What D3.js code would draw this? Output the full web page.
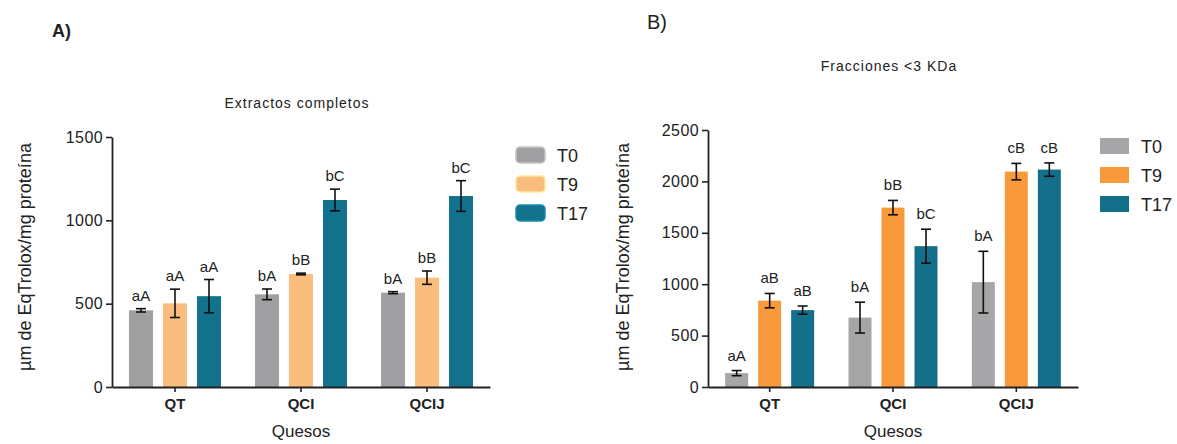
<!DOCTYPE html>
<html>
<head>
<meta charset="utf-8">
<script src="https://cdn.jsdelivr.net/npm/d3@7"></script>
<style>
  body { margin: 0; background: #fff; }
  text { font-family: "Liberation Sans", Arial, sans-serif; fill: #222; }
</style>
</head>
<body>
<script>
var categories = ["QT", "QCI", "QCIJ"];
var series = ["T0", "T9", "T17"];

// A) Extractos completos
var aMeans = { T0: [460, 556, 566], T9: [502, 678, 656], T17: [545, 1122, 1146] };
var aErr = { T0: [10, 32, 6], T9: [85, 5, 40], T17: [100, 65, 92] };
var aLetters = { T0: ["aA", "bA", "bA"], T9: ["aA", "bB", "bB"], T17: ["aA", "bC", "bC"] };
var aTicks = [0, 500, 1000, 1500];

// B) Fracciones <3 KDa
var bMeans = { T0: [135, 675, 1020], T9: [840, 1745, 2095], T17: [748, 1370, 2115] };
var bErr = { T0: [25, 150, 300], T9: [70, 70, 80], T17: [40, 165, 65] };
var bLetters = { T0: ["aA", "bA", "bA"], T9: ["aB", "bB", "cB"], T17: ["aB", "bC", "cB"] };
var bTicks = [0, 500, 1000, 1500, 2000, 2500];

var width = 1177, height = 444;

var svg = d3.select("body").append("svg")
  .attr("width", width)
  .attr("height", height);

function panel(cfg) {
  var x = d3.scaleBand().domain(categories).range([cfg.x0, cfg.x1]);
  var xs = d3.scaleBand().domain(series).range([-cfg.step * 1.5, cfg.step * 1.5]);
  var y = d3.scaleLinear().domain([0, cfg.max]).range([387, cfg.top]);

  var g = svg.append("g");

  // bars
  series.forEach(function(s) {
    var gs = g.append("g");
    gs.selectAll("rect")
      .data(categories)
      .enter().append("rect")
      .attr("x", function(d) { return x(d) + x.bandwidth() / 2 + xs(s) + (cfg.step - cfg.barW) / 2; })
      .attr("y", function(d, i) { return y(cfg.means[s][i]); })
      .attr("width", cfg.barW)
      .attr("height", function(d, i) { return y(0) - y(cfg.means[s][i]); })
      .style("fill", cfg.colors[s]);

    // error bars
    var eb = gs.selectAll(".err")
      .data(categories)
      .enter().append("g")
      .attr("transform", function(d) { return "translate(" + (x(d) + x.bandwidth() / 2 + xs(s) + cfg.step / 2) + ",0)"; });
    eb.append("line")
      .attr("y1", function(d, i) { return y(cfg.means[s][i] + cfg.err[s][i]); })
      .attr("y2", function(d, i) { return y(cfg.means[s][i] - cfg.err[s][i]); });
    eb.append("line")
      .attr("x1", -5).attr("x2", 5)
      .attr("y1", function(d, i) { return y(cfg.means[s][i] + cfg.err[s][i]); })
      .attr("y2", function(d, i) { return y(cfg.means[s][i] + cfg.err[s][i]); });
    eb.append("line")
      .attr("x1", -5).attr("x2", 5)
      .attr("y1", function(d, i) { return y(cfg.means[s][i] - cfg.err[s][i]); })
      .attr("y2", function(d, i) { return y(cfg.means[s][i] - cfg.err[s][i]); });
    eb.selectAll("line").style("stroke", "#111").style("stroke-width", 1.6);

    eb.append("text")
      .attr("y", function(d, i) { return y(cfg.means[s][i] + cfg.err[s][i]) - cfg.gap; })
      .attr("text-anchor", "middle")
      .style("font-size", "15px")
      .text(function(d, i) { return cfg.letters[s][i]; });
  });

  // axes
  var yAxis = d3.axisLeft(y).tickValues(cfg.ticks).tickFormat(d3.format("d"))
    .tickSize(6).tickPadding(3).tickSizeOuter(0);
  var gy = g.append("g").attr("transform", "translate(" + cfg.x0 + ",0)").call(yAxis);
  var xAxis = d3.axisBottom(x).tickSize(5).tickSizeOuter(0).tickPadding(6);
  var gx = g.append("g").attr("transform", "translate(0,387)").call(xAxis);
  [gy, gx].forEach(function(a) {
    a.selectAll("path, line").style("stroke", "#222").style("stroke-width", 1.6);
    a.select(".domain").style("stroke-width", 1.8);
  });
  gy.selectAll("text").style("font-size", "16px").style("letter-spacing", "0.4px")
    .style("fill", "#222").attr("font-family", "Liberation Sans, Arial");
  gx.selectAll("text").style("font-size", "15px").style("font-weight", "bold")
    .style("fill", "#222").attr("font-family", "Liberation Sans, Arial");

  // titles
  g.append("text")
    .attr("x", (cfg.x0 + cfg.x1) / 2 - 4)
    .attr("y", cfg.titleY)
    .attr("text-anchor", "middle")
    .style("font-size", "14px")
    .style("letter-spacing", "1px")
    .text(cfg.title);

  g.append("text")
    .attr("x", (cfg.x0 + cfg.x1) / 2)
    .attr("y", 437)
    .attr("text-anchor", "middle")
    .style("font-size", "17px")
    .text("Quesos");

  g.append("text")
    .attr("transform", "translate(" + cfg.yTitleX + "," + cfg.yTitleY + ") rotate(-90)")
    .attr("text-anchor", "middle")
    .style("font-size", "18px")
    .text(cfg.yTitle);

  g.append("text")
    .attr("x", cfg.labelX)
    .attr("y", cfg.labelY)
    .style("font-size", cfg.labelSize)
    .style("font-weight", cfg.labelWeight)
    .text(cfg.label);

  // legend
  var lg = g.append("g")
    .attr("transform", "translate(" + cfg.legX + "," + cfg.legY + ")");
  var item = lg.selectAll("g")
    .data(series)
    .enter().append("g")
    .attr("transform", function(d, i) { return "translate(0," + i * 29 + ")"; });
  item.append("rect")
    .attr("width", 29)
    .attr("height", 16)
    .attr("rx", cfg.legRx)
    .style("fill", function(d) { return cfg.colors[d]; })
    .style("stroke", function(d) { return cfg.legRx ? d3.color(cfg.colors[d]).brighter(0.6) : "none"; })
    .style("stroke-width", 1.5);
  item.append("text")
    .attr("x", 41)
    .attr("y", 15)
    .style("font-size", "18px")
    .text(function(d) { return d; });
}

panel({
  x0: 112, x1: 490, top: 137, max: 1500, step: 34, barW: 24, gap: 8,
  means: aMeans, err: aErr, letters: aLetters, ticks: aTicks,
  colors: { T0: "#a0a0a2", T9: "#fbbd7d", T17: "#13728d" },
  title: "Extractos completos", titleY: 108,
  yTitle: "µm de EqTrolox/mg proteína", yTitleX: 31, yTitleY: 257,
  label: "A)", labelX: 52, labelY: 37, labelSize: "18px", labelWeight: "bold",
  legX: 516, legY: 147, legRx: 4
});

panel({
  x0: 708, x1: 1078, top: 130, max: 2500, step: 33, barW: 23, gap: 10,
  means: bMeans, err: bErr, letters: bLetters, ticks: bTicks,
  colors: { T0: "#a6a6a8", T9: "#f89a3b", T17: "#136f8a" },
  title: "Fracciones <3 KDa", titleY: 71,
  yTitle: "µm de EqTrolox/mg proteína", yTitleX: 629, yTitleY: 257,
  label: "B)", labelX: 647, labelY: 29, labelSize: "20px", labelWeight: "normal",
  legX: 1100, legY: 138, legRx: 0
});
</script>
</body>
</html>
